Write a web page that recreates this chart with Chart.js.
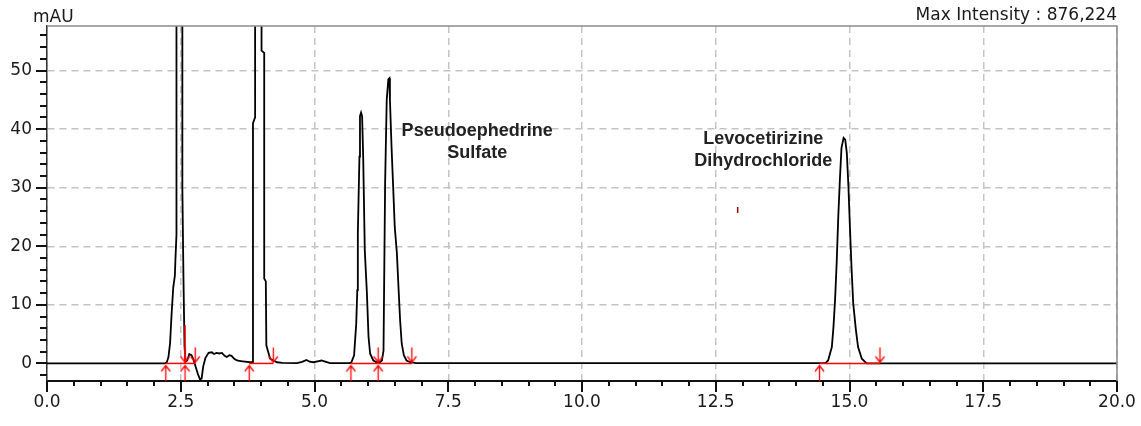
<!DOCTYPE html>
<html lang="en">
<head>
<meta charset="UTF-8" />
<title>Chromatogram</title>
<script src="https://cdn.jsdelivr.net/npm/chart.js"></script>
<style>
  html, body { margin: 0; padding: 0; background: #fff; }
</style>
</head>
<body>
<canvas id="chromChart" width="1141" height="426"></canvas>
<script>
// retention time (min) / detector signal (mAU)
const traceTime = [
  0.00, 2.20, 2.24, 2.27, 2.30, 2.33, 2.36, 2.39, 2.40, 2.42, 2.42, 2.47, 2.53, 2.53, 2.55, 2.57, 2.59,
  2.62, 2.66, 2.70, 2.74, 2.78, 2.82, 2.86, 2.89, 2.92, 2.96, 3.02, 3.08, 3.12, 3.17, 3.22, 3.27,
  3.32, 3.36, 3.41, 3.45, 3.50, 3.55, 3.62, 3.70, 3.79, 3.84, 3.85, 3.89, 3.89, 3.95, 4.01, 4.01,
  4.06, 4.06, 4.09, 4.10, 4.17, 4.23, 4.30, 4.40, 4.67, 4.75, 4.79, 4.85, 4.91, 4.98, 5.08, 5.13,
  5.20, 5.29, 5.66, 5.69, 5.74, 5.78, 5.80, 5.81, 5.84, 5.85, 5.87, 5.89, 5.91, 5.94, 5.98, 6.01,
  6.04, 6.10, 6.16, 6.22, 6.26, 6.29, 6.30, 6.32, 6.35, 6.38, 6.40, 6.41, 6.44, 6.47, 6.50, 6.54,
  6.57, 6.60, 6.63, 6.67, 6.72, 6.79, 6.90, 14.55, 14.60, 14.67, 14.70, 14.73, 14.76, 14.79, 14.82,
  14.85, 14.89, 14.92, 14.95, 14.98, 15.01, 15.04, 15.07, 15.12, 15.16, 15.23, 15.32, 20.00
];
const traceMAU = [
  0, 0, 0.2, 1.1, 3.4, 8.6, 13.0, 15.0, 17.6, 22.0, 60.0, 876.2, 60.0, 30.0, 15.0, 3.0, 0.3,
  0.5, 1.6, 1.4, 0.6, -0.6, -1.8, -2.7, -2.6, -0.5, 0.9, 1.8, 1.9, 1.6, 1.8, 1.7, 1.8,
  1.3, 1.1, 1.4, 1.3, 0.8, 0.5, 0.4, 0.3, 0.2, 0.2, 41.0, 42.0, 60.0, 700.0, 60.0, 53.4,
  53.0, 14.5, 14.0, 3.1, 0.8, 0.5, 0.2, 0.1, 0.05, 0.2, 0.35, 0.6, 0.3, 0.2, 0.4, 0.5,
  0.3, 0.05, 0.05, 0.2, 1.4, 6.8, 12.5, 22.2, 35.3, 42.2, 42.8, 42.2, 35.3, 19.3, 11.9, 4.5,
  1.65, 0.5, 0.2, 0.2, 0.5, 2.2, 11.9, 30.8, 45.0, 48.5, 48.7, 45.0, 37.0, 30.2, 23.3, 18.8,
  13.0, 7.4, 3.4, 1.4, 0.5, 0.2, 0.05, 0.05, 0.5, 2.8, 6.2, 10.8, 17.1, 25.0, 31.3,
  36.8, 38.5, 38.2, 35.9, 30.2, 22.8, 15.9, 10.2, 5.7, 2.8, 0.8, 0, 0
];

// integration marks (min)
const peakStarts = [2.22, 2.58, 3.78, 5.68, 6.19, 14.44];
const peakEnds = [2.58, 2.77, 4.23, 6.19, 6.82, 15.57];
const baselineFrom = [2.22, 3.78, 5.68, 14.44];
const baselineTo = [2.77, 4.23, 6.82, 15.57];
const dropLineTime = 2.58;
const dropLineTop = 6.5;

// axis ticks
const xTickValues = [];
for (let i = 0; i <= 40; i++) xTickValues.push(i / 2);
const yTickValues = [];
for (let v = -2; v <= 56; v += 2) yTickValues.push(v);
const isMajorX = v => Math.abs(v / 2.5 - Math.round(v / 2.5)) < 1e-6;
const isMajorY = v => v % 10 === 0;

const peakNames = [
  { lines: ["Pseudoephedrine", "Sulfate"], t: 8.04, mau: 38.9 },
  { lines: ["Levocetirizine", "Dihydrochloride"], t: 13.39, mau: 37.4 }
];

function arrowCanvas(up) {
  const c = document.createElement("canvas");
  c.width = 13;
  c.height = 40;
  const g = c.getContext("2d");
  g.strokeStyle = "#ff0000";
  g.lineWidth = 1.3;
  const cx = 6.5, cy = 20;
  g.beginPath();
  if (up) {
    g.moveTo(cx, cy + 2); g.lineTo(cx, cy + 18);
    g.moveTo(cx - 4.5, cy + 8); g.lineTo(cx, cy + 2); g.lineTo(cx + 4.5, cy + 8);
  } else {
    g.moveTo(cx, cy - 16); g.lineTo(cx, cy - 1);
    g.moveTo(cx - 4.5, cy - 7); g.lineTo(cx, cy - 1); g.lineTo(cx + 4.5, cy - 7);
  }
  g.stroke();
  return c;
}

const redSegments = baselineFrom.map((t0, i) => ({
  data: [{ x: t0, y: 0 }, { x: baselineTo[i], y: 0 }],
  showLine: true,
  borderColor: "#ff0000",
  borderWidth: 1.5,
  pointRadius: 0,
  order: 0
}));

const frameAndText = {
  id: "frameAndText",
  afterDraw(chart) {
    const { ctx, chartArea: a, scales } = chart;
    const x = scales.x, y = scales.y;
    ctx.save();
    // top / right frame
    ctx.strokeStyle = "#8c8c8c";
    ctx.lineWidth = 1.5;
    ctx.beginPath();
    ctx.moveTo(a.left, a.top);
    ctx.lineTo(a.right, a.top);
    ctx.lineTo(a.right, a.bottom);
    ctx.stroke();

    // tick marks
    ctx.strokeStyle = "#111";
    ctx.lineWidth = 2;
    ctx.beginPath();
    x.ticks.forEach(t => {
      const px = Math.round(x.getPixelForValue(t.value));
      ctx.moveTo(px, a.bottom);
      ctx.lineTo(px, a.bottom + (isMajorX(t.value) ? 11 : 5));
    });
    y.ticks.forEach(t => {
      const py = Math.round(y.getPixelForValue(t.value));
      ctx.moveTo(a.left, py);
      ctx.lineTo(a.left - (isMajorY(t.value) ? 11 : 7), py);
    });
    ctx.stroke();

    // header texts
    ctx.fillStyle = "#1a1a1a";
    ctx.font = '17px "DejaVu Sans"';
    ctx.textBaseline = "alphabetic";
    ctx.textAlign = "left";
    ctx.fillText("mAU", 33, 22);
    ctx.textAlign = "right";
    ctx.fillText("Max Intensity : 876,224", 1117, 20);

    // peak names
    ctx.fillStyle = "#222";
    ctx.font = 'bold 18px "Liberation Sans"';
    ctx.textAlign = "center";
    peakNames.forEach(p => {
      const px = x.getPixelForValue(p.t);
      const py = y.getPixelForValue(p.mau);
      p.lines.forEach((line, i) => ctx.fillText(line, px, py + i * 22));
    });
    ctx.restore();
  }
};

const ctx = document.getElementById("chromChart").getContext("2d");
new Chart(ctx, {
  type: "scatter",
  data: {
    datasets: [
      ...redSegments,
      {
        data: [{ x: dropLineTime, y: 0 }, { x: dropLineTime, y: dropLineTop }],
        showLine: true,
        borderColor: "#ff0000",
        borderWidth: 1.5,
        pointRadius: 0,
        order: 0
      },
      {
        data: [{ x: 12.91, y: 25.7 }, { x: 12.91, y: 26.7 }],
        showLine: true,
        borderColor: "#990000",
        borderWidth: 1.5,
        pointRadius: 0,
        order: 0
      },
      {
        data: peakStarts.map(t => ({ x: t, y: 0 })),
        pointStyle: arrowCanvas(true),
        pointRadius: 3,
        clip: false,
        order: 0
      },
      {
        data: peakEnds.map(t => ({ x: t, y: 0 })),
        pointStyle: arrowCanvas(false),
        pointRadius: 3,
        clip: false,
        order: 0
      },
      {
        data: traceTime.map((t, i) => ({ x: t, y: traceMAU[i] })),
        showLine: true,
        borderColor: "#000",
        borderWidth: 1.8,
        pointRadius: 0,
        tension: 0,
        order: 1
      }
    ]
  },
  options: {
    responsive: false,
    animation: false,
    events: [],
    layout: { padding: { top: 26, right: 24, left: 0, bottom: 0 } },
    plugins: { legend: { display: false }, tooltip: { enabled: false } },
    scales: {
      x: {
        type: "linear",
        min: 0,
        max: 20,
        afterBuildTicks: s => { s.ticks = xTickValues.map(v => ({ value: v })); },
        afterFit: s => { s.height = 45; s.paddingLeft = 0; s.paddingRight = 0; },
        ticks: {
          autoSkip: false,
          maxRotation: 0,
          padding: 11,
          color: "#1a1a1a",
          font: { family: "DejaVu Sans", size: 17 },
          callback: v => (isMajorX(v) ? v.toFixed(1) : "")
        },
        grid: {
          drawTicks: false,
          lineWidth: 1.5,
          color: c => (c.tick && isMajorX(c.tick.value) ? "#c4c4c4" : "rgba(0,0,0,0)")
        },
        border: { color: "#111", width: 2, dash: [7, 5] }
      },
      y: {
        type: "linear",
        min: -3.0,
        max: 57.6,
        afterBuildTicks: s => { s.ticks = yTickValues.map(v => ({ value: v })); },
        afterFit: s => { s.width = 47; s.paddingTop = 0; s.paddingBottom = 0; },
        ticks: {
          autoSkip: false,
          padding: 15,
          color: "#1a1a1a",
          font: { family: "DejaVu Sans", size: 17 },
          callback: v => (isMajorY(v) ? String(v) : "")
        },
        grid: {
          drawTicks: false,
          lineWidth: 1.5,
          color: c => (c.tick && isMajorY(c.tick.value) && c.tick.value !== 0 ? "#c4c4c4" : "rgba(0,0,0,0)")
        },
        border: { color: "#333", width: 1.5, dash: [7, 5] }
      }
    }
  },
  plugins: [frameAndText]
});
</script>
</body>
</html>
